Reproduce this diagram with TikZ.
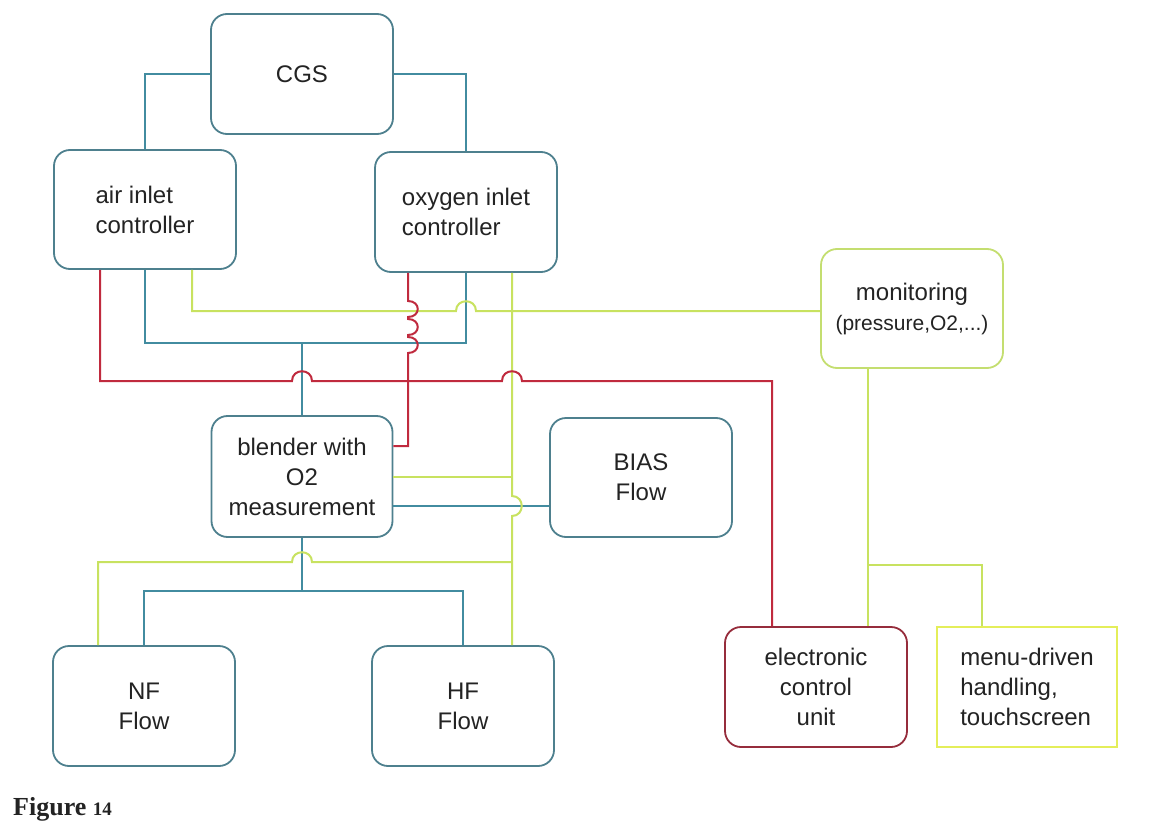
\documentclass[tikz,border=0pt]{standalone}
\usepackage{fontspec}
\setmainfont{Liberation Sans}
\newfontfamily\capfont{Liberation Serif}
\definecolor{bluel}{RGB}{66,140,160}
\definecolor{blueb}{RGB}{78,128,142}
\definecolor{redl}{RGB}{192,42,62}
\definecolor{redb}{RGB}{150,45,60}
\definecolor{yell}{RGB}{200,226,96}
\definecolor{yelb}{RGB}{196,222,112}
\definecolor{menub}{RGB}{228,238,90}
\definecolor{txt}{RGB}{35,35,35}
\newcommand\hjmp[2]{-- (#1-10,#2) .. controls (#1-10,#2-13) and (#1+10,#2-13) .. (#1+10,#2)}
\newcommand\vjmp[3]{-- (#1,#2-#3) .. controls (#1+13,#2-#3) and (#1+13,#2+#3) .. (#1,#2+#3)}
\begin{document}
\begin{tikzpicture}[x=1pt,y=-1pt,
  box/.style={draw, rounded corners=16pt, line width=1.8pt, minimum width=182pt,
    minimum height=120pt, inner sep=0pt, align=center, text=txt,
    font=\fontsize{24}{30}\selectfont},
  bluebox/.style={box, draw=blueb},
  bl/.style={draw=bluel, line width=2pt},
  rl/.style={draw=redl, line width=2pt},
  yl/.style={draw=yell, line width=2pt}]
\fill[white] (0,0) rectangle (1162,824);
\useasboundingbox (0,0) rectangle (1162,824);

% boxes
\node[bluebox] (cgs) at (302,74) {CGS};
\node[bluebox, align=left, minimum height=119pt] (air) at (145,209.5) {air inlet\\controller};
\node[bluebox, align=left] (oxy) at (466,212) {oxygen inlet\\controller};
\node[box, draw=yelb, minimum height=119pt] (mon) at (912,308.5) {monitoring\\{\fontsize{21}{28}\selectfont (pressure,O2,...)}};
\node[bluebox, minimum width=181pt, minimum height=121pt] (blend) at (302,476.5) {blender with\\O2\\measurement};
\node[bluebox, minimum height=119pt] (bias) at (641,477.5) {BIAS\\Flow};
\node[bluebox] (nf) at (144,706) {NF\\Flow};
\node[bluebox] (hf) at (463,706) {HF\\Flow};
\node[box, draw=redb] (ecu) at (816,687) {electronic\\control\\unit};
\node[box, draw=menub, rounded corners=0pt, minimum width=180pt, align=left] (menu) at (1027,687) {menu-driven\\handling,\\touchscreen};

% helper coordinates
\coordinate (xA) at (100,0);
\coordinate (xB) at (192,0);
\coordinate (xC) at (408,0);
\coordinate (xD) at (512,0);
\coordinate (xE) at (772,0);
\coordinate (xF) at (868,0);
\coordinate (xG) at (982,0);
\coordinate (xH) at (98,0);
\coordinate (yY) at (0,311);
\coordinate (yBl) at (0,343);
\coordinate (yR) at (0,381);
\coordinate (yRb) at (0,446);
\coordinate (yYb) at (0,477);
\coordinate (yBb) at (0,506);
\coordinate (yY2) at (0,562);
\coordinate (yB2) at (0,591);
\coordinate (yY3) at (0,565);

% blue connectors
\draw[bl] (cgs.west) -| (air.north);
\draw[bl] (cgs.east) -| (oxy.north);
\draw[bl] (air.south) |- (oxy.south |- yBl) -- (oxy.south);
\draw[bl] (blend.north) -- (blend.north |- yBl);
\draw[bl] (blend.south) -- (blend.south |- yB2);
\draw[bl] (nf.north) |- (hf.north |- yB2) -- (hf.north);
\draw[bl] (blend.east |- yBb) -- (bias.west |- yBb);

% yellow connectors
\draw[yl] (air.south -| xB) -- (xB |- yY) \hjmp{466}{311} -- (mon.west |- yY);
\draw[yl] (oxy.south -| xD) \vjmp{512}{506}{10} -- (hf.north -| xD);
\draw[yl] (blend.east |- yYb) -- (xD |- yYb);
\draw[yl] (nf.north -| xH) -- (xH |- yY2) \hjmp{302}{562} -- (xD |- yY2);
\draw[yl] (mon.south -| xF) -- (ecu.north -| xF);
\draw[yl] (xF |- yY3) -| (menu.north -| xG);

% red connectors
\draw[rl] (air.south -| xA) -- (xA |- yR) \hjmp{302}{381} \hjmp{512}{381} -- (xE |- yR) -- (ecu.north -| xE);
\draw[rl] (oxy.south -| xC) \vjmp{408}{309}{8} \vjmp{408}{327}{8} \vjmp{408}{345}{8} -- (xC |- yRb) -- (blend.east |- yRb);

% caption
\node[anchor=base west, inner sep=0pt, text=txt, font=\capfont\bfseries\fontsize{26}{30}\selectfont] (cap) at (13,815) {Figure {\fontsize{19}{20}\selectfont 14}};
\end{tikzpicture}
\end{document}
